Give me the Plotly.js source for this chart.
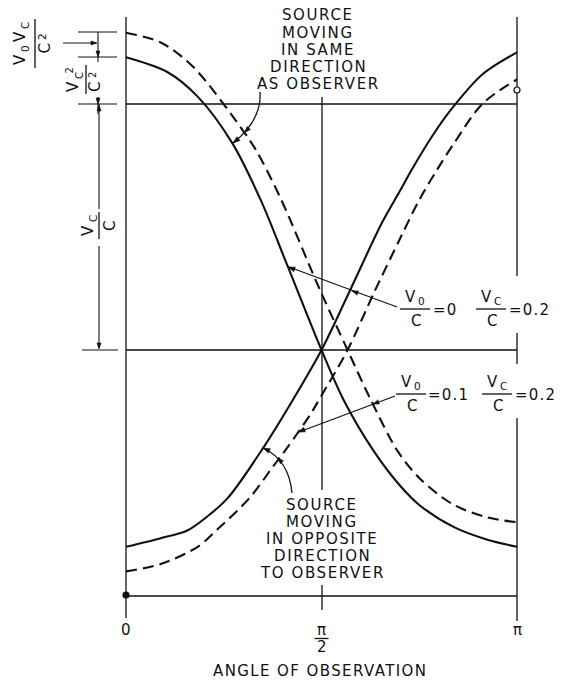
<!DOCTYPE html>
<html>
<head>
<meta charset="utf-8">
<script src="https://cdn.plot.ly/plotly-3.0.1.min.js"></script>
<style>
  html, body { margin: 0; padding: 0; background: #fff; }
  #chart { width: 564px; height: 681px; }
</style>
</head>
<body>
<div id="chart"></div>
<script>
// ---------------- DATA (angle of observation in degrees, 0..180 = 0..π;
//                  frequency shift in units of vc/c) ----------------
// Source moving in same direction as observer
const angleSameSolid = [0, 19, 33, 49, 62, 74, 90, 100, 114, 126, 135, 151, 166, 180];          // v0/c = 0
const shiftSameSolid = [1.19, 1.13, 1.03, 0.84, 0.61, 0.35, 0, -0.20, -0.41, -0.55, -0.63, -0.72, -0.77, -0.80];
const angleSameDashed = [0, 16, 31, 54, 60, 71, 89, 102, 112, 125, 135, 150, 166, 180];         // v0/c = 0.1
const shiftSameDashed = [1.29, 1.25, 1.15, 0.89, 0.81, 0.62, 0.25, 0, -0.19, -0.41, -0.52, -0.625, -0.68, -0.70];
// Source moving in opposite direction to observer
const angleOppSolid = [0, 16, 28, 37, 47, 63, 77, 90, 103, 118, 126, 132, 141, 149, 164, 180];  // v0/c = 0
const shiftOppSolid = [-0.80, -0.765, -0.735, -0.68, -0.60, -0.40, -0.20, 0, 0.24, 0.52, 0.645, 0.74, 0.87, 0.97, 1.12, 1.21];
const angleOppDashed = [0, 16, 33, 42, 57, 68, 74, 85, 89, 102, 114, 126, 135, 143, 151, 164, 180]; // v0/c = 0.1
const shiftOppDashed = [-0.90, -0.87, -0.80, -0.73, -0.60, -0.47, -0.40, -0.26, -0.20, 0, 0.23, 0.45, 0.61, 0.73, 0.84, 1.00, 1.10];

const tickAngles = [0, 90, 180];
const tickLabels = ['0', 'π/2', 'π'];
const xAxisTitle = 'ANGLE OF OBSERVATION';
const sameLines = ['SOURCE', 'MOVING', 'IN SAME', 'DIRECTION', 'AS OBSERVER'];
const oppLines = ['SOURCE', 'MOVING', 'IN OPPOSITE', 'DIRECTION', 'TO OBSERVER'];
const label1 = { v0: '0', vc: '0.2' };
const label2 = { v0: '0.1', vc: '0.2' };

// ---------------- LAYOUT GEOMETRY ----------------
const W = 564, H = 681;
const X0PX = 126, X180PX = 517, Y0PX = 350, UNITPX = 246;
const DPP = 180 / (X180PX - X0PX);
function px(x) { return (x - X0PX) * DPP; }
function py(y) { return (Y0PX - y) / UNITPX; }
const FONT = 'DejaVu Sans, Verdana, sans-serif';
const INK = '#111';

const shapes = [];
function seg(x0, y0, x1, y1, w) {
  shapes.push({ type: 'line', xref: 'x', yref: 'y', x0: px(x0), y0: py(y0), x1: px(x1), y1: py(y1),
    line: { color: INK, width: w || 1.3 } });
}
function dseg(x0, y0, x1, y1, w) {
  shapes.push({ type: 'line', xref: 'x', yref: 'y', x0: x0, y0: y0, x1: x1, y1: y1, line: { color: INK, width: w || 1.3 } });
}
function circ(cx, cy, r, filled) {
  shapes.push({ type: 'circle', xref: 'x', yref: 'y', x0: px(cx - r), x1: px(cx + r), y0: py(cy + r), y1: py(cy - r),
    line: { color: INK, width: 1.2 }, fillcolor: filled ? INK : '#fff' });
}
function curve(p0, p1, p2) {
  shapes.push({ type: 'path', xref: 'x', yref: 'y',
    path: `M ${px(p0[0])},${py(p0[1])} Q ${px(p1[0])},${py(p1[1])} ${px(p2[0])},${py(p2[1])}`,
    line: { color: INK, width: 1.3 } });
}
// filled arrowhead with tip at (hx,hy), pointing away from (tx,ty)
function head(hx, hy, tx, ty, L, hw) {
  L = L || 7; hw = hw || 2.4;
  const dx = hx - tx, dy = hy - ty, n = Math.hypot(dx, dy);
  const ux = dx / n, uy = dy / n;
  const bx = hx - ux * L, by = hy - uy * L;
  const a = [bx - uy * hw, by + ux * hw], b = [bx + uy * hw, by - ux * hw];
  shapes.push({ type: 'path', xref: 'x', yref: 'y',
    path: `M ${px(hx)},${py(hy)} L ${px(a[0])},${py(a[1])} L ${px(b[0])},${py(b[1])} Z`,
    fillcolor: INK, line: { color: INK, width: 0.6 } });
}

const annotations = [];
function txt(x, y, text, size, extra) {
  annotations.push(Object.assign({ xref: 'x', yref: 'y', x: px(x), y: py(y), text: text, showarrow: false,
    xanchor: 'center', yanchor: 'middle', font: { family: FONT, size: size || 15, color: INK } }, extra || {}));
}
function rot(x, y, text, size) { txt(x, y, text, size, { textangle: -90 }); }
function spaced(s, ls) { return `<span style="letter-spacing:${ls}px">${s}</span>`; }

// Frame / reference lines
dseg(0, 1, 180, 1);
dseg(0, 0, 180, 0);
dseg(0, -1, 180, -1, 1.6);
seg(126, 17, 126, 618);            // left vertical
seg(517, 17, 517, 276);            // right vertical, broken by labels
seg(517, 333, 517, 364);
seg(517, 418, 517, 621);
seg(322, 97, 322, 490);            // centre vertical
seg(322, 585, 322, 610);
circ(126, 595, 3, true);
circ(517, 90, 3, false);

// Left dimension lines
seg(78, 32, 117, 32, 1.1);
seg(78, 57, 117, 57, 1.1);
seg(78, 104, 117, 104, 1.1);
seg(82, 350, 118, 350, 1.1);
seg(98, 32, 98, 62, 1.1);
seg(98, 97, 98, 114, 1.1);
seg(99, 104, 99, 209, 1.1);
seg(99, 246, 99, 348, 1.1);
seg(63, 43, 96, 43, 1.1);
head(97, 43, 80, 43, 6, 2);
head(98, 57, 98, 47, 6, 2);
head(98, 104, 98, 95, 6, 2);
head(99, 105, 99, 115, 6, 2);
head(99, 349, 99, 339, 6, 2);

// Rotated fraction labels (read bottom to top)
rot(20, 60, 'V', 15); rot(24.5, 48.5, '0', 10.5); rot(20, 37, 'V', 15); rot(24.5, 25.5, 'C', 10.5);
seg(35, 19, 35, 68, 1.3);
rot(44.5, 49, 'C', 15); rot(42, 37, '2', 10.5);
rot(73, 87, 'V', 15); rot(79, 76, 'C', 10); rot(69, 70.5, '2', 10);
seg(86, 65, 86, 94, 1.3);
rot(95, 87, 'C', 15); rot(92, 75, '2', 10);
rot(88, 231, 'V', 15); rot(93, 219, 'C', 10.5);
seg(99, 212, 99, 239, 1.3);
rot(110, 226, 'C', 15);

// Right-hand fraction labels
function fracLabel(xv0, xvc, yc, lab, eqx1, eqx2) {
  txt(xv0 - 5, yc - 12, 'V', 15); txt(xv0 + 6, yc - 8.5, '0', 10.5);
  seg(xv0 - 15, yc, xv0 + 15, yc, 1.3);
  txt(xv0 + 1, yc + 12, 'C', 15);
  txt(eqx1, yc + 1, spaced('=' + lab.v0, 1.2), 15, { xanchor: 'left' });
  txt(xvc - 5, yc - 12, 'V', 15); txt(xvc + 6.5, yc - 8.5, 'C', 10.5);
  seg(xvc - 15, yc, xvc + 15, yc, 1.3);
  txt(xvc + 1, yc + 12, 'C', 15);
  txt(eqx2, yc + 1, spaced('=' + lab.vc, 1.2), 15, { xanchor: 'left' });
}
fracLabel(415, 491, 309, label1, 431, 507);
fracLabel(411, 497, 394, label2, 426, 513);

// Leader arrows from the labels
seg(397, 307, 289, 267, 1.2);
head(288, 267, 397, 307);
head(352, 291, 397, 307, 6, 2.2);
seg(395, 396, 299, 432, 1.2);
head(298, 432, 395, 396);
head(373, 404, 395, 396, 6, 2.2);

// Text blocks
const sameY = [15, 33, 50, 67, 84];
sameLines.forEach((s, i) => txt(318, sameY[i], spaced(s, 1.6), 15));
const oppY = [505, 522, 539, 556, 573];
oppLines.forEach((s, i) => txt(322, oppY[i], spaced(s, 1.6), 15));
curve([260, 92], [262, 120], [233, 143]);
head(233, 143, 241, 136.7);
head(244.7, 132.5, 250.7, 125.9, 6, 2.2);
curve([292, 493], [289, 460], [263, 448]);
head(263, 448, 271, 451.7);
head(277.7, 458, 284, 464.4, 6, 2.2);

// Tick labels & axis title
tickAngles.forEach((a, i) => {
  const lab = tickLabels[i];
  const xpix = X0PX + a / DPP;
  if (lab.indexOf('/') >= 0) {
    const parts = lab.split('/');
    txt(xpix, 630, parts[0], 15);
    seg(xpix - 7, 638.5, xpix + 7, 638.5, 1.3);
    txt(xpix, 647, parts[1], 15);
  } else {
    txt(xpix, 630, lab, 15);
  }
});
txt(320, 671, spaced(xAxisTitle, 1.4), 15);

// ---------------- TRACES ----------------
function curveTrace(xs, ys, dashed) {
  return { type: 'scatter', mode: 'lines', x: xs, y: ys, hoverinfo: 'skip',
    line: { color: INK, width: 2.1, shape: 'spline', smoothing: 0.9, dash: dashed ? '11px,6px' : 'solid' } };
}
const data = [
  curveTrace(angleSameSolid, shiftSameSolid, false),
  curveTrace(angleSameDashed, shiftSameDashed, true),
  curveTrace(angleOppSolid, shiftOppSolid, false),
  curveTrace(angleOppDashed, shiftOppDashed, true)
];

const layout = {
  width: W, height: H,
  margin: { l: 0, r: 0, t: 0, b: 0, pad: 0, autoexpand: false },
  paper_bgcolor: '#fff', plot_bgcolor: '#fff',
  showlegend: false,
  xaxis: { range: [px(0), px(W)], visible: false, fixedrange: true },
  yaxis: { range: [py(H), py(0)], visible: false, fixedrange: true },
  shapes: shapes,
  annotations: annotations
};

Plotly.newPlot('chart', data, layout, { staticPlot: true, displayModeBar: false });
</script>
</body>
</html>
